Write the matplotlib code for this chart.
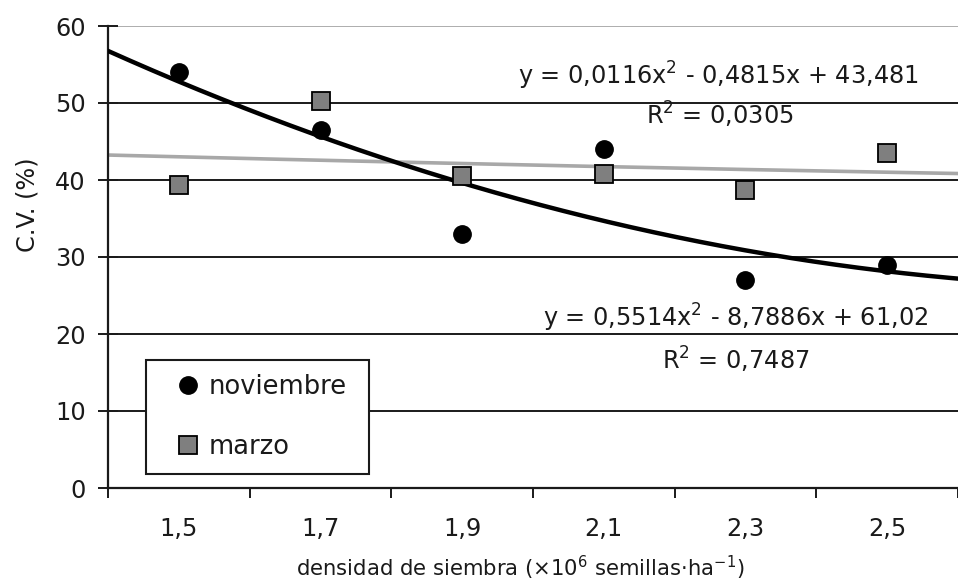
import numpy as np
import matplotlib
matplotlib.use("Agg")
import matplotlib.pyplot as plt

plt.rcParams['font.family'] = ['DejaVu Sans']
plt.rcParams['mathtext.fontset'] = 'dejavusans'

# ---- data ----
densidad = [1.5, 1.7, 1.9, 2.1, 2.3, 2.5]
tick_labels = ["1,5", "1,7", "1,9", "2,1", "2,3", "2,5"]
noviembre = [54.0, 46.5, 33.0, 44.0, 27.0, 29.0]
marzo = [39.3, 50.3, 40.5, 40.8, 38.7, 43.5]
# trendline coefficients (a, b, c) as printed, x = category index 1..6
coef_noviembre = [0.5514, -8.7886, 61.02]
coef_marzo = [0.0116, -0.4815, 43.481]
eq_noviembre = "y = 0,5514x$^2$ - 8,7886x + 61,02"
r2_noviembre = "R$^2$ = 0,7487"
eq_marzo = "y = 0,0116x$^2$ - 0,4815x + 43,481"
r2_marzo = "R$^2$ = 0,0305"

FS = 17.3
TC = '#1a1a1a'

fig = plt.figure(figsize=(9.58, 5.82), dpi=100)
W, H = 958, 582
x0, x1, ytop, ybot = 108, 958, 26, 488
ax = fig.add_axes([x0 / W, (H - ybot) / H, (x1 - x0) / W, (ybot - ytop) / H])

ax.set_xlim(1.4, 2.6)
ax.set_ylim(0, 60)

# gridlines
for g in [10, 20, 30, 40, 50]:
    ax.axhline(g, color=TC, lw=1.4, zorder=1)
ax.axhline(60, color='#a0a0a0', lw=1.2, zorder=1)

# trend lines
step = densidad[1] - densidad[0]
d = np.linspace(1.4, 2.6, 300)
idx = (d - densidad[0]) / step + 1
yn = np.polyval(coef_noviembre, idx)
ym = np.polyval(coef_marzo, idx)
ax.plot(d, ym, color='#a8a8a8', lw=2.6, zorder=2)
ax.plot(d, yn, color='black', lw=3.2, zorder=3)

# points
ax.plot(densidad, noviembre, linestyle='none', marker='o', ms=12.5,
        mfc='black', mec='black', zorder=4, label='noviembre')
ax.plot(densidad, marzo, linestyle='none', marker='s', ms=12.5,
        mfc='#7f7f7f', mec='black', mew=1.3, zorder=4, label='marzo')

# axes style
for s in ['top', 'right']:
    ax.spines[s].set_visible(False)
for s in ['left', 'bottom']:
    ax.spines[s].set_linewidth(1.6)
    ax.spines[s].set_color(TC)

ax.set_yticks([0, 10, 20, 30, 40, 50, 60])
ax.tick_params(axis='y', direction='inout', length=14, width=1.4,
               labelsize=FS, pad=9, colors=TC)
ax.set_xticks(np.arange(1.4, 2.61, 0.2))
ax.set_xticklabels([])
ax.set_xticks(densidad, minor=True)
ax.set_xticklabels(tick_labels, minor=True)
ax.tick_params(axis='x', which='major', direction='out', length=7, width=1.4, colors=TC)
ax.tick_params(axis='x', which='minor', length=0, labelsize=FS, pad=21, colors=TC)

def px(xp, yp):
    return xp / W, 1 - yp / H

fig.text(*px(520, 576), "densidad de siembra (×10$^6$ semillas·ha$^{-1}$)",
         fontsize=15.2, ha='center', va='baseline', color=TC)
fig.text(*px(28, 205), "C.V. (%)", rotation=90, fontsize=FS,
         ha='center', va='center', color=TC)

# equations
fig.text(*px(718, 85), eq_marzo, fontsize=FS, ha='center', va='baseline', color=TC)
fig.text(*px(720, 125), r2_marzo, fontsize=FS, ha='center', va='baseline', color=TC)
fig.text(*px(736, 327), eq_noviembre, fontsize=FS, ha='center', va='baseline', color=TC)
fig.text(*px(736, 370), r2_noviembre, fontsize=FS, ha='center', va='baseline', color=TC)

LFS = 18.5
leg = ax.legend(loc='upper left',
                bbox_to_anchor=(146 / W, 1 - 470 / H, 223 / W, 110 / H),
                bbox_transform=fig.transFigure, mode='expand',
                frameon=True, fancybox=False, fontsize=LFS,
                handlelength=2.2, handletextpad=-0.3,
                labelspacing=1.3, borderpad=0.55, borderaxespad=0)
leg.get_frame().set_edgecolor(TC)
leg.get_frame().set_linewidth(1.5)
leg.get_frame().set_alpha(1)
leg.set_zorder(5)
for t in leg.get_texts():
    t.set_color(TC)

fig.savefig('out.png', dpi=100)
